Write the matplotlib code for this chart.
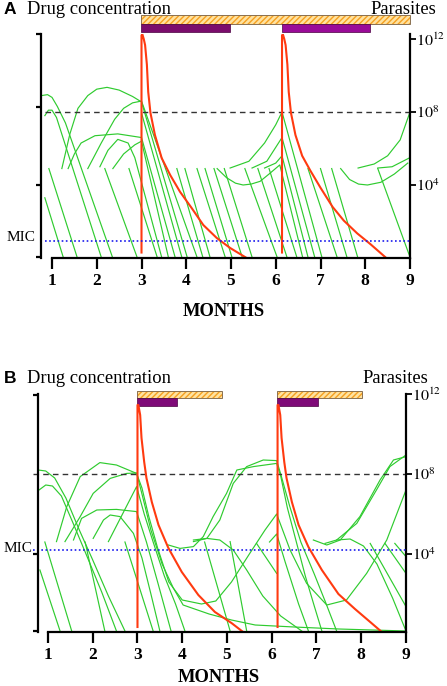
import numpy as np
import matplotlib
matplotlib.use('Agg')
import matplotlib.pyplot as plt

plt.rcParams['font.family'] = 'serif'
plt.rcParams['font.serif'] = ['Liberation Serif', 'DejaVu Serif']
plt.rcParams['mathtext.fontset'] = 'stix'

#months on the x axis
months = [1, 2, 3, 4, 5, 6, 7, 8, 9]

#treatment periods (start, end) in months
a_orange = [(2.99, 9.0)]
a_purple = [(2.99, 4.98), (6.14, 8.1)]
b_orange = [(2.99, 4.89), (6.12, 8.02)]
b_purple = [(2.99, 3.88), (6.12, 7.03)]

#drug concentration (log units, left axis)
a_drug_t1 = [3.0, 3.0, 3.02, 3.05, 3.08, 3.12, 3.15, 3.2, 3.3, 3.45, 3.64, 3.86, 4.12, 4.38, 4.68, 4.98, 5.35]
a_drug_c1 = [0.3, 12.2, 12.25, 12.0, 11.67, 10.6, 9.1, 7.95, 6.74, 5.48, 4.55, 3.63, 2.74, 1.81, 1.1, 0.55, 0.0]
a_drug_t2 = [6.14, 6.14, 6.16, 6.19, 6.22, 6.26, 6.29, 6.34, 6.44, 6.59, 6.77, 7.0, 7.27, 7.52, 7.82, 8.12, 8.47]
a_drug_c2 = [0.3, 12.2, 12.25, 12.0, 11.67, 10.6, 9.1, 7.95, 6.74, 5.6, 4.8, 3.85, 2.8, 2.05, 1.35, 0.75, 0.0]
b_drug_t1 = [3.0, 3.0, 3.02, 3.06, 3.09, 3.15, 3.2, 3.32, 3.47, 3.69, 3.99, 4.36, 4.73, 5.1, 5.36]
b_drug_c1 = [0.35, 11.45, 11.45, 10.95, 9.8, 8.6, 7.8, 6.6, 5.45, 4.3, 3.1, 1.95, 1.1, 0.55, 0.1]
b_drug_t2 = [6.13, 6.13, 6.15, 6.19, 6.22, 6.28, 6.33, 6.45, 6.6, 6.82, 7.12, 7.49, 7.86, 8.2, 8.46]
b_drug_c2 = [0.35, 11.45, 11.45, 10.95, 9.8, 8.6, 7.8, 6.6, 5.45, 4.35, 3.2, 2.0, 1.25, 0.6, 0.1]

#MIC level (log units)
a_mic = 0.93
b_mic = 4.2

#parasite trajectories: (month, log10 parasites)
a_parasites = [
    [(0.77, 8.9), (0.9, 8.95), (1.0, 8.8), (1.12, 8.3), (1.3, 7.4), (2.35, 0.05)],
    [(0.84, 7.8), (0.92, 8.1), (1.0, 8.1), (1.1, 7.7), (2.1, 0.05)],
    [(0.84, 3.3), (1.25, 0.05)],
    [(0.93, 4.9), (1.56, 0.05)],
    [(1.22, 4.9), (1.4, 6.8), (1.58, 8.2), (1.8, 8.9), (2.0, 9.25), (2.23, 9.35), (2.5, 9.2), (2.8, 8.85), (3.0, 8.55), (4.02, 0.05)],
    [(1.8, 4.9), (2.1, 6.3), (2.4, 7.6), (2.6, 8.2), (2.8, 8.5), (3.0, 8.6), (4.24, 0.05)],
    [(1.36, 4.9), (1.5, 5.7), (1.65, 6.3), (1.96, 6.7), (2.47, 6.8), (3.0, 6.6), (3.75, 0.05)],
    [(2.07, 5.0), (2.25, 5.9), (2.47, 6.5), (2.7, 6.3), (2.85, 5.5), (3.45, 0.05)],
    [(2.36, 4.9), (2.6, 5.7), (2.85, 6.2), (3.0, 6.4), (3.6, 0.05)],
    [(2.18, 4.9), (2.9, 0.05)],
    [(2.72, 4.9), (3.35, 0.05)],
    [(3.0, 7.95), (3.9, 0.05)],
    [(3.79, 4.9), (4.37, 0.05)],
    [(3.97, 4.9), (4.53, 0.05)],
    [(4.24, 4.9), (4.87, 0.05)],
    [(4.42, 4.9), (5.02, 0.05)],
    [(4.62, 4.9), (5.25, 0.05)],
    [(4.85, 4.9), (5.47, 0.05)],
    [(5.31, 4.9), (6.03, 0.05)],
    [(4.69, 4.9), (4.9, 4.4), (5.1, 4.1), (5.27, 4.0), (5.45, 4.05), (5.65, 4.2), (5.85, 4.6), (6.09, 5.1), (6.6, 0.05)],
    [(4.98, 4.93), (5.4, 5.3), (5.75, 6.3), (6.0, 7.3), (6.14, 8.0), (7.03, 0.05)],
    [(5.47, 4.93), (5.8, 5.3), (6.14, 6.6), (6.87, 0.05)],
    [(5.75, 4.93), (6.0, 5.2), (6.14, 5.6), (6.72, 0.05)],
    [(5.6, 4.9), (6.25, 0.05)],
    [(5.85, 4.9), (6.47, 0.05)],
    [(6.72, 4.9), (7.37, 0.05)],
    [(7.0, 4.9), (7.59, 0.05)],
    [(7.25, 4.9), (7.83, 0.05)],
    [(8.28, 4.9), (9.0, 0.05)],
    [(7.45, 4.9), (7.65, 4.3), (7.85, 4.05), (8.05, 4.0), (8.35, 4.15), (8.65, 4.6), (8.95, 5.2)],
    [(7.84, 4.93), (8.2, 5.15), (8.5, 5.6), (8.78, 6.47), (9.0, 8.0)],
    [(8.28, 4.93), (8.6, 5.0), (9.0, 5.5)],
]

b_parasites = [
    [(0.78, 8.2), (0.95, 8.15), (1.15, 7.8), (1.4, 6.8), (1.7, 5.2), (2.0, 3.7), (2.35, 1.9), (2.72, 0.15)],
    [(0.8, 7.2), (0.95, 7.45), (1.1, 7.4), (1.3, 6.9), (1.55, 5.6), (1.85, 4.0), (2.2, 2.1), (2.53, 0.15)],
    [(0.82, 3.2), (1.27, 0.15)],
    [(0.93, 4.6), (1.53, 0.15)],
    [(1.83, 4.6), (2.27, 0.15)],
    [(2.72, 4.6), (3.35, 0.15)],
    [(1.19, 4.62), (1.42, 6.37), (1.72, 7.87), (2.16, 8.57), (2.53, 8.45), (2.98, 8.03), (3.1, 7.3), (3.25, 5.9),
     (3.45, 4.3), (3.7, 2.6), (4.0, 1.7), (4.43, 1.5), (4.75, 1.65), (5.1, 2.6), (5.5, 4.0), (5.85, 5.2), (6.11, 6.0),
     (6.41, 4.2), (6.78, 2.53), (7.23, 1.45), (7.67, 1.7), (8.12, 3.03), (8.57, 4.7), (9.0, 7.2)],
    [(1.38, 4.62), (1.72, 5.87), (2.01, 7.03), (2.39, 7.78), (2.76, 8.03), (2.98, 8.05), (3.1, 7.0), (3.3, 5.2),
     (3.55, 3.5), (3.8, 2.3), (4.02, 1.45), (4.6, 1.0), (5.1, 0.7), (5.63, 0.45), (6.5, 0.35), (7.5, 0.25), (9.0, 0.15)],
    [(1.57, 4.7), (1.75, 5.78), (2.09, 6.2), (2.53, 6.23), (2.98, 6.12), (3.2, 4.6), (3.45, 2.6), (3.75, 0.15)],
    [(2.01, 4.78), (2.24, 5.7), (2.39, 5.95), (2.61, 5.87), (2.91, 5.03), (3.1, 3.8), (3.3, 2.0), (3.5, 0.15)],
    [(2.35, 4.62), (2.98, 7.37), (3.15, 6.0), (3.35, 4.6), (3.6, 2.9), (3.85, 1.5), (4.06, 0.15)],
    [(3.69, 4.45), (3.95, 4.28), (4.25, 4.37), (4.47, 4.87), (4.69, 5.87), (4.99, 7.03), (5.22, 8.2), (5.59, 8.37),
     (6.11, 8.53), (6.2, 7.9), (6.35, 6.3), (6.55, 4.6), (6.75, 2.9), (6.95, 1.4), (7.12, 0.15)],
    [(4.25, 4.7), (4.55, 4.78), (4.84, 5.7), (5.14, 7.53), (5.44, 8.37), (5.81, 8.7), (6.11, 8.67), (6.2, 8.0),
     (6.4, 6.4), (6.65, 4.6), (6.95, 3.0), (7.2, 1.6), (7.45, 0.15)],
    [(4.25, 4.62), (4.55, 4.78), (4.84, 4.7), (5.14, 4.2), (5.44, 3.2), (5.8, 1.9), (6.2, 0.9), (6.67, 0.15)],
    [(4.5, 4.6), (5.07, 0.15)],
    [(5.07, 4.62), (5.44, 0.15)],
    [(5.66, 4.53), (6.11, 3.03)],
    [(5.95, 4.6), (6.11, 5.0), (6.3, 3.6), (6.6, 1.5), (6.82, 0.15)],
    [(6.93, 4.7), (7.23, 4.45), (7.53, 4.7), (7.97, 5.87), (8.42, 7.7), (8.72, 8.7), (9.0, 8.87)],
    [(7.19, 4.53), (7.45, 4.7), (7.9, 5.53), (8.34, 7.2), (8.64, 8.37), (9.0, 8.95)],
    [(7.45, 4.7), (7.75, 4.75), (8.05, 4.4), (8.35, 3.5), (8.7, 1.8), (9.0, 0.15)],
    [(8.2, 4.53), (9.0, 1.37)],
    [(8.53, 4.53), (9.0, 3.03)],
    [(8.75, 4.53), (9.0, 3.87)],
]

W, H = 447, 686
fig = plt.figure(figsize=(W / 100, H / 100), dpi=100)

GREEN = '#2fcb2f'
RED = '#ff3a10'


def px_axes(left, top, right, bottom):
    return [left / W, 1 - bottom / H, (right - left) / W, (bottom - top) / H]


def panel(rect, xlim, ylim, left_ticks, drug, mic, mic_x0, parasites, orange, purple,
          purple_colors, orange_y, purple_y, letter, title_y, mic_label_y, mic_label_x,
          parasites_right, months_y, months_x):
    ax = fig.add_axes(rect)
    ax2 = ax.twinx()
    ax.set_zorder(ax2.get_zorder() + 1)
    ax.patch.set_visible(False)

    ax.set_xlim(*xlim)
    ax.set_ylim(*ylim)
    ax2.set_yscale('log')
    ax2.set_ylim(10 ** ylim[0], 10 ** ylim[1])

    #parasites
    for traj in parasites:
        xs = [p[0] for p in traj]
        ys = [10 ** p[1] for p in traj]
        ax2.plot(xs, ys, color=GREEN, lw=0.85)
    ax2.hlines(1e8, mic_x0, 9.0, colors='#333333', linestyles=(0, (4, 3)), lw=1.0, clip_on=False)

    #drug
    for t, c in drug:
        ax.plot(t, c, color=RED, lw=1.5, solid_joinstyle='round')
    ax.hlines(mic, mic_x0, 9.0, colors='#1a1aee', linestyles=(0, (1, 1.5)), lw=1.2, clip_on=False)

    #treatment bars
    for (s, e) in orange:
        ax.bar(s, orange_y[1] - orange_y[0], width=e - s, bottom=orange_y[0], align='edge',
               color='#ffe2a0', edgecolor='#f5a020', hatch='//////', lw=0, clip_on=False)
        ax.bar(s, orange_y[1] - orange_y[0], width=e - s, bottom=orange_y[0], align='edge',
               fill=False, edgecolor='#8a7050', lw=0.7, clip_on=False)
    for (s, e), col in zip(purple, purple_colors):
        ax.bar(s, purple_y[1] - purple_y[0], width=e - s, bottom=purple_y[0], align='edge',
               color=col, edgecolor='#4a0040', lw=0.5, clip_on=False)

    #spines
    for sp in ['top', 'right']:
        ax.spines[sp].set_visible(False)
    for sp in ['top', 'left', 'bottom']:
        ax2.spines[sp].set_visible(False)
    ax.spines['left'].set_linewidth(1.6)
    ax.spines['bottom'].set_linewidth(1.6)
    ax.spines['bottom'].set_bounds(1, 9)
    ax2.spines['right'].set_linewidth(1.6)

    ax.set_xticks(months)
    ax.set_xticklabels([str(m) for m in months], fontweight='bold', fontsize=12.5)
    ax.tick_params(axis='x', direction='out', length=8, width=1.6, pad=3)
    ax.set_yticks(left_ticks)
    ax.set_yticklabels([])
    ax.tick_params(axis='y', direction='out', length=3.5, width=1.6)

    ax2.set_yticks([1e4, 1e8, 1e12])
    ax2.set_yticklabels(['$10^4$', '$10^8$', '$10^{12}$'], fontsize=11.5)
    ax2.yaxis.set_minor_locator(matplotlib.ticker.NullLocator())
    ax2.tick_params(axis='y', direction='out', length=4, width=1.3, pad=0.5)

    fig.text(4 / W, 1 - title_y / H, letter, fontsize=12.5, fontweight='bold',
             family='Liberation Sans', va='baseline', ha='left')
    fig.text(27 / W, 1 - title_y / H, 'Drug concentration', fontsize=13.3, va='baseline', ha='left')
    fig.text(parasites_right / W, 1 - title_y / H, 'Parasites', fontsize=13.3, va='baseline', ha='right')
    fig.text(mic_label_x / W, 1 - mic_label_y / H, 'MIC', fontsize=11, va='center', ha='right')
    fig.text(months_x / W, 1 - months_y / H, 'MONTHS', fontsize=13.3, fontweight='bold',
             va='center', ha='center')
    return ax, ax2


panel(px_axes(41, 33.5, 410, 258), (0.754, 9.0), (0.0, 12.3), [0.05, 4.0, 8.27, 12.3],
      [(a_drug_t1, a_drug_c1), (a_drug_t2, a_drug_c2)], a_mic, 0.84, a_parasites,
      a_orange, a_purple, ['#7b0c6c', '#9a0a98'], (12.82, 13.3), (12.38, 12.82),
      'A', 14, 238, 35, 436, 312, 224)

panel(px_axes(38, 394, 406, 632), (0.777, 9.0), (0.1, 12.0), [0.15, 4.0, 11.95],
      [(b_drug_t1, b_drug_c1), (b_drug_t2, b_drug_c2)], b_mic, 0.665, b_parasites,
      b_orange, b_purple, ['#7f0a78', '#7f0a78'], (11.8, 12.15), (11.4, 11.8),
      'B', 383, 548, 32, 428, 677, 219)

plt.savefig('out.png', dpi=100)
